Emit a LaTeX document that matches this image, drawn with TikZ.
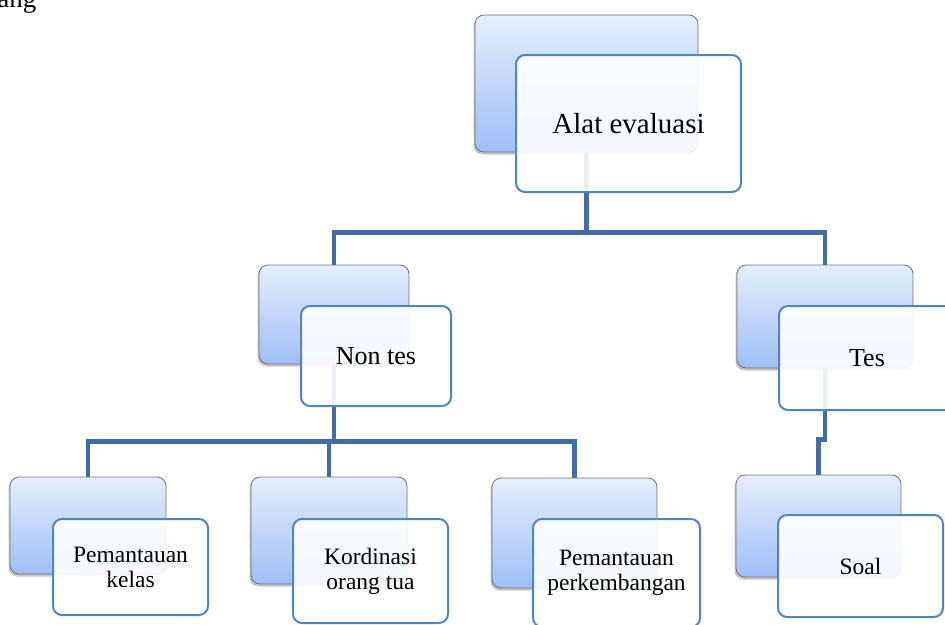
\documentclass[tikz,border=0pt]{standalone}
\usepackage{fontspec}
\setmainfont{Liberation Serif}
\usetikzlibrary{shadows,backgrounds}
\definecolor{linkblue}{RGB}{64,108,168}
\definecolor{edgeblue}{RGB}{84,132,192}
\definecolor{shadetop}{RGB}{230,238,253}
\definecolor{shadebot}{RGB}{158,191,246}

\begin{document}
\begin{tikzpicture}[x=1pt,y=-1pt,
  backbox/.style={rectangle,rounded corners=9pt,draw=black!55,line width=0.8pt,
    top color=shadetop,bottom color=shadebot,
    drop shadow={shadow xshift=-1.5pt,shadow yshift=-2.5pt,opacity=0.45}},
  frontbox/.style={rectangle,rounded corners=9pt,draw=edgeblue,line width=2pt,
    fill=white,fill opacity=0.9,text opacity=1,align=center,inner sep=0pt},
  link/.style={draw=linkblue,line width=4.3pt},
  big/.style={font=\fontsize{29}{33}\selectfont},
  mid/.style={font=\fontsize{26}{30}\selectfont},
  small/.style={font=\fontsize{23.5}{25}\selectfont}]

    \node[font=\fontsize{27}{30}\selectfont,anchor=base east] (prev) at (40,7) {ang};

    % top level
    \node[minimum width=223pt,minimum height=137pt] (alatB) at (586.5,83.5) [backbox] {};
    \node[big,minimum width=225pt,minimum height=137pt] (alatF) at (628.5,123.5) [frontbox] {Alat evaluasi};

    % second level
    \node[minimum width=150pt,minimum height=99pt] (nontesB) at (334,314.5) [backbox] {};
    \node[mid,minimum width=150pt,minimum height=100pt] (nontesF) at (376,356) [frontbox] {Non tes};

    \node[minimum width=176pt,minimum height=103pt] (tesB) at (825,316.5) [backbox] {};
    \node[mid,minimum width=176pt,minimum height=104pt] (tesF) at (867,358) [frontbox] {Tes};

    % third level
    \node[minimum width=156pt,minimum height=97pt] (kelasB) at (88,525.5) [backbox] {};
    \node[small,minimum width=155pt,minimum height=96pt] (kelasF) at (130.5,567) [frontbox] {Pemantauan\\kelas};

    \node[minimum width=156pt,minimum height=107pt] (ortuB) at (329,530.5) [backbox] {};
    \node[small,minimum width=155pt,minimum height=104pt] (ortuF) at (370.5,571) [frontbox] {Kordinasi\\orang tua};

    \node[minimum width=165pt,minimum height=110pt] (kembangB) at (574.5,533) [backbox] {};
    \node[small,minimum width=167pt,minimum height=108pt] (kembangF) at (616.5,573) [frontbox] {Pemantauan\\perkembangan};

    \node[minimum width=165pt,minimum height=102pt] (soalB) at (818.5,526) [backbox] {};
    \node[small,minimum width=165pt,minimum height=102pt] (soalF) at (860.5,566) [frontbox] {Soal};

    \begin{scope}[on background layer]
      \draw[link] (alatB.south) -- ++(0,80) coordinate (busTop);
      \draw[link] (busTop) -| (nontesB.north);
      \draw[link] (busTop) -| (tesB.north);

      \draw[link] (nontesB.south) -- ++(0,77) coordinate (busMid);
      \draw[link] (busMid) -| (kelasB.north);
      \draw[link] (busMid) -| (ortuB.north);
      \draw[link] (busMid) -| (kembangB.north);

      \draw[link] (tesB.south) -- ++(0,71) -| (soalB.north);
    \end{scope}

    \pgfresetboundingbox
    \useasboundingbox (0,0) rectangle (945,624);
  \end{tikzpicture}
\end{document}
